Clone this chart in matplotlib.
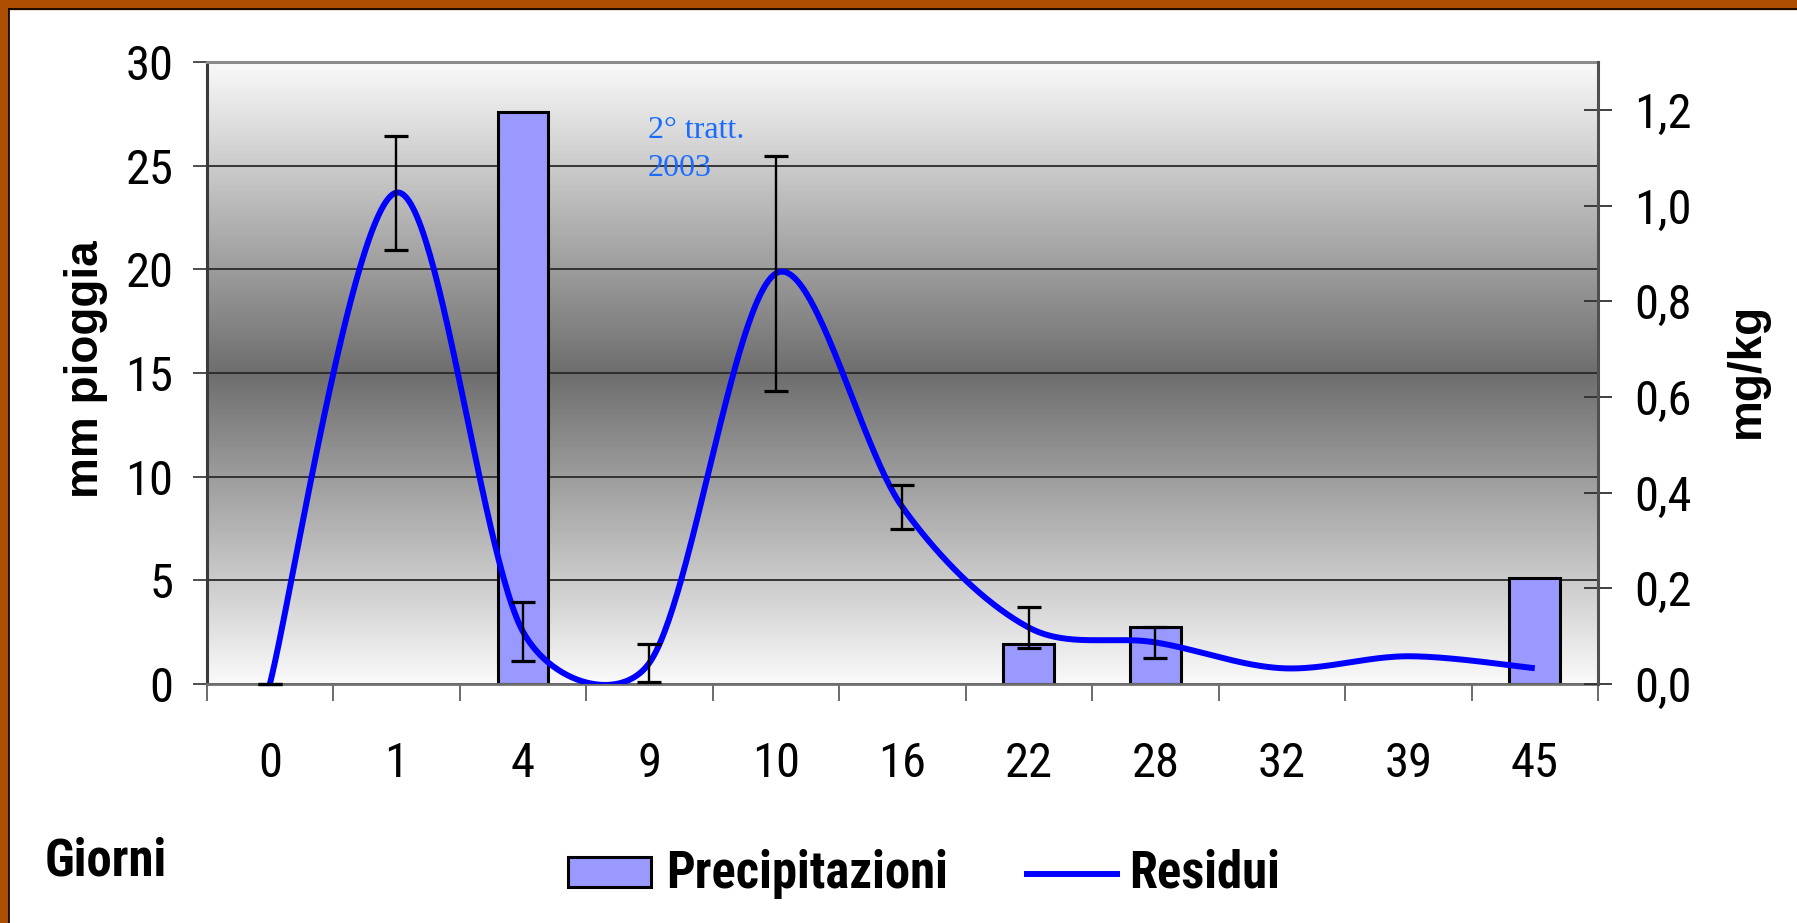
import numpy as np
import matplotlib
matplotlib.use('Agg')
import matplotlib.pyplot as plt
from matplotlib.patches import Rectangle
from matplotlib.lines import Line2D
from matplotlib.ticker import FuncFormatter

# ---------------- data ----------------
categories = ['0', '1', '4', '9', '10', '16', '22', '28', '32', '39', '45']
precipitazioni = [0, 0, 27.6, 0, 0, 0, 1.93, 2.73, 0, 0, 5.13]          # mm pioggia
residui = [0.0, 1.027, 0.11, 0.044, 0.858, 0.37, 0.118, 0.087, 0.033, 0.058, 0.033]  # mg/kg
residui_err = [0.0, 0.119, 0.062, 0.039, 0.246, 0.045, 0.043, 0.033, np.nan, np.nan, np.nan]
left_ticks = [0, 5, 10, 15, 20, 25, 30]
right_ticks = [0.0, 0.2, 0.4, 0.6, 0.8, 1.0, 1.2]

NARROW = ['Roboto Condensed', 'Liberation Sans', 'DejaVu Sans']
WIDE = ['Liberation Sans', 'DejaVu Sans']
plt.rcParams['font.family'] = NARROW

W, H = 1797, 923
fig = plt.figure(figsize=(W / 100, H / 100), dpi=100)
fig.patch.set_facecolor('white')

def px(x):
    return x / W

def py(y):
    return 1 - y / H

# slide frame (brown strip left & top)
brown = '#AD4E02'
fig.add_artist(Rectangle((0, 0), px(8), 1, transform=fig.transFigure, color=brown, zorder=0))
fig.add_artist(Rectangle((0, py(9)), 1, 9 / H, transform=fig.transFigure, color=brown, zorder=0))
fig.add_artist(Line2D([px(8.5), px(8.5)], [0, py(9)], color='black', lw=1.2))
fig.add_artist(Line2D([px(8.5), 1], [py(9), py(9)], color='black', lw=1.2))

L, R, T, B = 206.6, 1598, 62, 684
ax = fig.add_axes([px(L), py(B), (R - L) / W, (B - T) / H])

# gradient background of plot area
t = np.linspace(0, 1, 512)
c = 0.43 + 0.55 * np.abs(2 * t - 1)
grad = np.dstack([c, c, c]).reshape(512, 1, 3)
ax.imshow(grad, origin='lower', extent=(0, 1, 0, 1), transform=ax.transAxes,
          aspect='auto', zorder=0, interpolation='bilinear')

x = np.arange(len(categories))
prec = np.array(precipitazioni, dtype=float)
mask = prec > 0
ax.bar(x[mask], prec[mask], width=0.4, color='#9999FF', edgecolor='black',
       linewidth=2.2, zorder=2)

ax.set_xlim(-0.5, len(categories) - 0.5)
ax.set_ylim(0, 30)
ax.set_yticks(left_ticks)
ax.yaxis.grid(True, color='#2a2a2a', lw=1.3)
ax.set_axisbelow(True)
ax.tick_params(axis='y', direction='out', length=10, width=1.3, color='#404040',
               pad=14, labelsize=35)
ax.set_xticks(x)
ax.set_xticklabels(categories)
ax.tick_params(axis='x', which='major', length=0, pad=41, labelsize=35)
ax.set_xticks(np.arange(-0.5, len(categories), 1), minor=True)
ax.tick_params(axis='x', which='minor', direction='out', length=12, width=1.3, color='#606060')

ax.spines['left'].set_color('#3a3a3a'); ax.spines['left'].set_linewidth(2.2)
ax.spines['top'].set_color('#8a8a8a'); ax.spines['top'].set_linewidth(2.2)
ax.spines['bottom'].set_color('#707070'); ax.spines['bottom'].set_linewidth(2.0)
ax.spines['right'].set_visible(False)

# secondary axis: residui
ax2 = ax.twinx()
ax2.set_zorder(ax.get_zorder() + 1)
ax2.patch.set_visible(False)
ax2.set_ylim(0, 1.3)
ax2.set_yticks(right_ticks)
ax2.yaxis.set_major_formatter(FuncFormatter(lambda v, p: f'{v:.1f}'.replace('.', ',')))
ax2.tick_params(axis='y', direction='inout', length=20, width=1.3, color='#303030',
                pad=16, labelsize=35)
for s in ['left', 'top', 'bottom']:
    ax2.spines[s].set_visible(False)
ax2.spines['right'].set_color('#505050'); ax2.spines['right'].set_linewidth(2.2)

# Excel-like smoothed line (Bezier through the data points, handles scaled by segment length)
res = np.array(residui, dtype=float)
P = np.column_stack([x.astype(float), res])
sx = (R - L) / len(categories)
sy = (B - T) / 1.3
Pext = np.vstack([P[0], P, P[-1]])

def dist(a, b):
    return np.hypot((a[0] - b[0]) * sx, (a[1] - b[1]) * sy)

seg = []
tt = np.linspace(0, 1, 60)
for i in range(len(P) - 1):
    p0, p1, p2, p3 = Pext[i], Pext[i + 1], Pext[i + 2], Pext[i + 3]
    d01, d12, d23 = dist(p0, p1), dist(p1, p2), dist(p2, p3)
    f1 = (1 / 6) * np.sqrt(min(1.0, 2 * d12 / (d01 + d12)))
    f2 = (1 / 6) * np.sqrt(min(1.0, 2 * d12 / (d12 + d23)))
    c1 = p1 + (p2 - p0) * f1
    c2 = p2 - (p3 - p1) * f2
    b = ((1 - tt) ** 3)[:, None] * p1 + (3 * (1 - tt) ** 2 * tt)[:, None] * c1 \
        + (3 * (1 - tt) * tt ** 2)[:, None] * c2 + (tt ** 3)[:, None] * p2
    seg.append(b if i == 0 else b[1:])
curve = np.vstack(seg)
ax2.plot(curve[:, 0], curve[:, 1], color='#0000FF', lw=4.3, solid_joinstyle='round',
         solid_capstyle='butt', zorder=3)

err = np.array(residui_err, dtype=float)
em = ~np.isnan(err)
ax2.errorbar(x[em], res[em], yerr=err[em], fmt='none', ecolor='black',
             elinewidth=1.7, capsize=8.3, capthick=2.3, zorder=4, clip_on=False)

# axis titles
fig.text(px(86), py(369), 'mm pioggia', rotation=90, ha='center', va='center',
         fontsize=33, fontweight='bold', family=WIDE)
fig.text(px(1747), py(370), 'mg/kg', rotation=90, ha='center', va='center',
         fontsize=33, fontweight='bold', family=WIDE)
fig.text(px(45), py(875), 'Giorni', ha='left', va='baseline', fontsize=36.5, fontweight='bold')

# annotation
fig.text(px(648), py(138), '2° tratt.', ha='left', va='baseline', fontsize=23,
         color='#1a6bff', family=['Liberation Serif', 'DejaVu Serif'])
fig.text(px(648), py(176), '2003', ha='left', va='baseline', fontsize=23,
         color='#1a6bff', family=['Liberation Serif', 'DejaVu Serif'])

# legend
fig.add_artist(Rectangle((px(568), py(887)), (651 - 568) / W, 30 / H, transform=fig.transFigure,
                         facecolor='#9999FF', edgecolor='black', lw=2.2))
fig.text(px(666), py(888), 'Precipitazioni', ha='left', va='baseline', fontsize=36.5, fontweight='bold')
fig.add_artist(Line2D([px(1027), px(1117)], [py(874), py(874)], transform=fig.transFigure,
                      color='#0000FF', lw=4.3))
fig.text(px(1129), py(888), 'Residui', ha='left', va='baseline', fontsize=36.5, fontweight='bold')

fig.savefig('out.png', dpi=100)
